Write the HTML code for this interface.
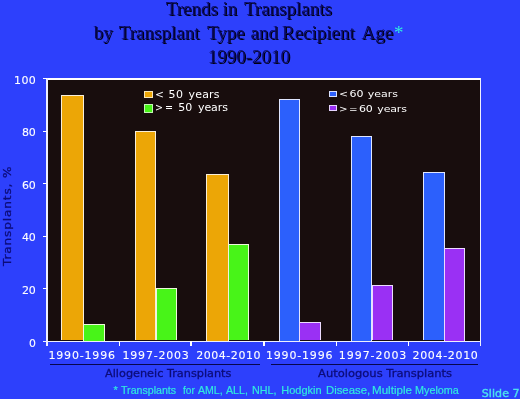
<!DOCTYPE html>
<html><head><meta charset="utf-8">
<style>
html,body{margin:0;padding:0;}
body{width:520px;height:399px;background:#2d40fc;position:relative;overflow:hidden;}
.w{position:absolute;white-space:nowrap;display:block;}
.plot{position:absolute;left:47px;top:79px;width:433.5px;height:262px;background:#180d0d;}
.ax{position:absolute;background:#fff;}
.bar{position:absolute;box-sizing:border-box;border:1px solid #f6eedc;border-bottom:none;}
.o{background:#eca606;border-color:#f8eed8;}
.g{background:#48f418;border-color:#eef8dc;}
.b{background:#2c60fc;border-color:#dfe6ff;}
.p{background:#9a30f4;border-color:#ecdcff;}
.sw{position:absolute;box-sizing:border-box;border:1px solid #f0eef8;}
.ul{position:absolute;background:#07074c;height:1.7px;top:363.6px;}
</style></head><body>
<div class="plot"></div>
<div class="bar o" style="left:60.5px;top:94.6px;width:23.00px;height:245.90px"></div>
<div class="bar g" style="left:83px;top:324px;width:22.00px;height:16.50px"></div>
<div class="bar o" style="left:135px;top:131.2px;width:21.00px;height:209.30px"></div>
<div class="bar g" style="left:155.5px;top:287.9px;width:21.50px;height:52.60px"></div>
<div class="bar o" style="left:206px;top:174px;width:23.00px;height:166.50px"></div>
<div class="bar g" style="left:228px;top:244.3px;width:21.00px;height:96.20px"></div>
<div class="bar b" style="left:278.7px;top:98.75px;width:21.30px;height:241.75px"></div>
<div class="bar p" style="left:299px;top:321.7px;width:21.50px;height:18.80px"></div>
<div class="bar b" style="left:351px;top:135.75px;width:21.30px;height:204.75px"></div>
<div class="bar p" style="left:371.8px;top:284.6px;width:20.80px;height:55.90px"></div>
<div class="bar b" style="left:423.3px;top:171.7px;width:21.70px;height:168.80px"></div>
<div class="bar p" style="left:444px;top:248px;width:21.40px;height:92.50px"></div>
<div class="ax" style="left:46.2px;top:78px;width:435px;height:2.2px"></div>
<div class="ax" style="left:46.3px;top:78px;width:1.4px;height:267.5px;background:#eef0ff"></div>
<div class="ax" style="left:479.8px;top:78px;width:1.4px;height:267.5px;background:#eef0ff"></div>
<div class="ax" style="left:43px;top:340.7px;width:438px;height:1.2px;background:#eef0ff"></div>
<div class="ax" style="left:118.7px;top:341px;width:1.2px;height:4.6px"></div>
<div class="ax" style="left:190.4px;top:341px;width:1.2px;height:4.6px"></div>
<div class="ax" style="left:263.4px;top:341px;width:1.2px;height:4.6px"></div>
<div class="ax" style="left:335.8px;top:341px;width:1.2px;height:4.6px"></div>
<div class="ax" style="left:407.8px;top:341px;width:1.2px;height:4.6px"></div>
<div class="ax" style="left:43px;top:78.0px;width:4px;height:1.2px"></div>
<div class="ax" style="left:43px;top:130.5px;width:4px;height:1.2px"></div>
<div class="ax" style="left:43px;top:183.0px;width:4px;height:1.2px"></div>
<div class="ax" style="left:43px;top:235.5px;width:4px;height:1.2px"></div>
<div class="ax" style="left:43px;top:288.0px;width:4px;height:1.2px"></div>
<div class="ul" style="left:49.5px;width:210px"></div>
<div class="ul" style="left:270.5px;width:207px"></div>
<div class="sw o" style="left:144px;top:90.6px;width:9px;height:7.7px;border-color:#f6e6b8"></div>
<div class="sw g" style="left:144px;top:104.1px;width:9px;height:8.6px;border-color:#c4f6b4"></div>
<div class="sw b" style="left:329px;top:90.9px;width:7.5px;height:6.2px;border-color:#d8e0ff"></div>
<div class="sw p" style="left:329px;top:105.4px;width:7.5px;height:6px;border-color:#e6d4ff"></div>
<div class="w" style="left:0;top:0;width:0;height:0;"><span class="w" style="left:2.2px;top:265.8px;font:11px 'DejaVu Sans','Liberation Sans',sans-serif;line-height:1;color:#0c0c78;letter-spacing:0.78px;-webkit-text-stroke:0.3px #0c0c78;transform:rotate(-90deg) scaleX(1.1);transform-origin:0 0;" id="yt">Transplants, %</span></div>
<span class="w" style="left:165.80px;top:-1.00px;font:normal 19px 'Liberation Serif',serif;line-height:1;color:#0a0a66;text-shadow:1px 1px 0.4px #00000c;">Trends</span>
<span class="w" style="left:222.40px;top:-1.00px;font:normal 19px 'Liberation Serif',serif;line-height:1;color:#0a0a66;text-shadow:1px 1px 0.4px #00000c;">in</span>
<span class="w" style="left:243.90px;top:-1.00px;font:normal 19px 'Liberation Serif',serif;line-height:1;color:#0a0a66;text-shadow:1px 1px 0.4px #00000c;">Transplants</span>
<span class="w" style="left:93.75px;top:22.70px;font:normal 19px 'Liberation Serif',serif;line-height:1;color:#0a0a66;text-shadow:1px 1px 0.4px #00000c;">by</span>
<span class="w" style="left:118.85px;top:22.70px;font:normal 19px 'Liberation Serif',serif;line-height:1;color:#0a0a66;text-shadow:1px 1px 0.4px #00000c;">Transplant</span>
<span class="w" style="left:207.00px;top:22.70px;font:normal 19px 'Liberation Serif',serif;line-height:1;color:#0a0a66;text-shadow:1px 1px 0.4px #00000c;">Type</span>
<span class="w" style="left:250.60px;top:22.70px;font:normal 19px 'Liberation Serif',serif;line-height:1;color:#0a0a66;text-shadow:1px 1px 0.4px #00000c;">and</span>
<span class="w" style="left:282.00px;top:22.70px;font:normal 19px 'Liberation Serif',serif;line-height:1;color:#0a0a66;text-shadow:1px 1px 0.4px #00000c;">Recipient</span>
<span class="w" style="left:361.50px;top:22.70px;font:normal 19px 'Liberation Serif',serif;line-height:1;color:#0a0a66;text-shadow:1px 1px 0.4px #00000c;">Age</span>
<span class="w" style="left:394.10px;top:23.00px;font:normal 19px 'Liberation Serif',serif;line-height:1;color:#30eadf;">*</span>
<span class="w" style="left:207.75px;top:46.70px;font:normal 19px 'Liberation Serif',serif;line-height:1;color:#0a0a66;text-shadow:1px 1px 0.4px #00000c;">1990-2010</span>
<span class="w" style="left:14.00px;top:74.60px;font:normal 11px 'DejaVu Sans','Liberation Sans',sans-serif;line-height:1;color:#fff;letter-spacing:0.40px;-webkit-text-stroke:0.1px #fff;">100</span>
<span class="w" style="left:22.00px;top:126.70px;font:normal 11px 'DejaVu Sans','Liberation Sans',sans-serif;line-height:1;color:#fff;letter-spacing:-0.20px;-webkit-text-stroke:0.1px #fff;">80</span>
<span class="w" style="left:22.00px;top:179.50px;font:normal 11px 'DejaVu Sans','Liberation Sans',sans-serif;line-height:1;color:#fff;letter-spacing:-0.20px;-webkit-text-stroke:0.1px #fff;">60</span>
<span class="w" style="left:22.00px;top:231.60px;font:normal 11px 'DejaVu Sans','Liberation Sans',sans-serif;line-height:1;color:#fff;letter-spacing:-0.20px;-webkit-text-stroke:0.1px #fff;">40</span>
<span class="w" style="left:22.00px;top:284.90px;font:normal 11px 'DejaVu Sans','Liberation Sans',sans-serif;line-height:1;color:#fff;letter-spacing:-0.20px;-webkit-text-stroke:0.1px #fff;">20</span>
<span class="w" style="left:28.90px;top:337.90px;font:normal 11px 'DejaVu Sans','Liberation Sans',sans-serif;line-height:1;color:#fff;transform:scaleX(0.986);transform-origin:0 0;-webkit-text-stroke:0.1px #fff;">0</span>
<span class="w" style="left:48.50px;top:349.80px;font:normal 11px 'DejaVu Sans','Liberation Sans',sans-serif;line-height:1;color:#fff;letter-spacing:0.81px;-webkit-text-stroke:0.1px #fff;">1990-1996</span>
<span class="w" style="left:122.50px;top:349.80px;font:normal 11px 'DejaVu Sans','Liberation Sans',sans-serif;line-height:1;color:#fff;letter-spacing:0.80px;-webkit-text-stroke:0.1px #fff;">1997-2003</span>
<span class="w" style="left:196.25px;top:349.80px;font:normal 11px 'DejaVu Sans','Liberation Sans',sans-serif;line-height:1;color:#fff;letter-spacing:0.53px;-webkit-text-stroke:0.1px #fff;">2004-2010</span>
<span class="w" style="left:266.00px;top:349.80px;font:normal 11px 'DejaVu Sans','Liberation Sans',sans-serif;line-height:1;color:#fff;letter-spacing:0.81px;-webkit-text-stroke:0.1px #fff;">1990-1996</span>
<span class="w" style="left:338.80px;top:349.80px;font:normal 11px 'DejaVu Sans','Liberation Sans',sans-serif;line-height:1;color:#fff;letter-spacing:0.95px;-webkit-text-stroke:0.1px #fff;">1997-2003</span>
<span class="w" style="left:412.50px;top:349.80px;font:normal 11px 'DejaVu Sans','Liberation Sans',sans-serif;line-height:1;color:#fff;letter-spacing:0.67px;-webkit-text-stroke:0.1px #fff;">2004-2010</span>
<span class="w" style="left:105.40px;top:368.00px;font:normal 11px 'DejaVu Sans','Liberation Sans',sans-serif;line-height:1;color:#0c0c78;transform:scaleX(1.025);transform-origin:0 0;-webkit-text-stroke:0.3px #0c0c78;">Allogeneic Transplants</span>
<span class="w" style="left:318.30px;top:368.00px;font:normal 11px 'DejaVu Sans','Liberation Sans',sans-serif;line-height:1;color:#0c0c78;transform:scaleX(1.047);transform-origin:0 0;-webkit-text-stroke:0.3px #0c0c78;">Autologous Transplants</span>
<span class="w" style="left:113.62px;top:385.40px;font:normal 11px 'Liberation Sans',sans-serif;line-height:1;color:#30eadf;-webkit-text-stroke:0.2px #30eadf;">*</span>
<span class="w" style="left:121.25px;top:385.40px;font:normal 11px 'Liberation Sans',sans-serif;line-height:1;color:#30eadf;transform:scaleX(0.965);transform-origin:0 0;-webkit-text-stroke:0.2px #30eadf;">Transplants</span>
<span class="w" style="left:182.50px;top:385.40px;font:normal 11px 'Liberation Sans',sans-serif;line-height:1;color:#30eadf;transform:scaleX(0.923);transform-origin:0 0;-webkit-text-stroke:0.2px #30eadf;">for</span>
<span class="w" style="left:198.00px;top:385.40px;font:normal 11px 'Liberation Sans',sans-serif;line-height:1;color:#30eadf;transform:scaleX(0.960);transform-origin:0 0;-webkit-text-stroke:0.2px #30eadf;">AML,</span>
<span class="w" style="left:226.25px;top:385.40px;font:normal 11px 'Liberation Sans',sans-serif;line-height:1;color:#30eadf;transform:scaleX(0.966);transform-origin:0 0;-webkit-text-stroke:0.2px #30eadf;">ALL,</span>
<span class="w" style="left:252.00px;top:385.40px;font:normal 11px 'Liberation Sans',sans-serif;line-height:1;color:#30eadf;transform:scaleX(0.979);transform-origin:0 0;-webkit-text-stroke:0.2px #30eadf;">NHL,</span>
<span class="w" style="left:281.25px;top:385.40px;font:normal 11px 'Liberation Sans',sans-serif;line-height:1;color:#30eadf;-webkit-text-stroke:0.2px #30eadf;">Hodgkin</span>
<span class="w" style="left:325.50px;top:385.40px;font:normal 11px 'Liberation Sans',sans-serif;line-height:1;color:#30eadf;transform:scaleX(1.030);transform-origin:0 0;-webkit-text-stroke:0.2px #30eadf;">Disease,</span>
<span class="w" style="left:372.30px;top:385.40px;font:normal 11px 'Liberation Sans',sans-serif;line-height:1;color:#30eadf;transform:scaleX(1.053);transform-origin:0 0;-webkit-text-stroke:0.2px #30eadf;">Multiple</span>
<span class="w" style="left:414.80px;top:385.40px;font:normal 11px 'Liberation Sans',sans-serif;line-height:1;color:#30eadf;transform:scaleX(0.982);transform-origin:0 0;-webkit-text-stroke:0.2px #30eadf;">Myeloma</span>
<span class="w" style="left:481.80px;top:387.90px;font:normal 11px 'DejaVu Sans','Liberation Sans',sans-serif;line-height:1;color:#4ce2ee;letter-spacing:0.07px;-webkit-text-stroke:0.4px #4ce2ee;">Slide 7</span>
<span class="w" style="left:155.23px;top:89.20px;font:normal 11px 'DejaVu Sans','Liberation Sans',sans-serif;line-height:1;color:#fff;transform:scaleX(0.971);transform-origin:0 0;">&lt;</span>
<span class="w" style="left:168.60px;top:89.20px;font:normal 11px 'DejaVu Sans','Liberation Sans',sans-serif;line-height:1;color:#fff;letter-spacing:0.30px;">50</span>
<span class="w" style="left:188.60px;top:89.20px;font:normal 11px 'DejaVu Sans','Liberation Sans',sans-serif;line-height:1;color:#fff;letter-spacing:0.15px;">years</span>
<span class="w" style="left:155.33px;top:101.50px;font:normal 11px 'DejaVu Sans','Liberation Sans',sans-serif;line-height:1;color:#fff;transform:scaleX(0.871);transform-origin:0 0;">&gt;</span>
<span class="w" style="left:164.53px;top:101.50px;font:normal 11px 'DejaVu Sans','Liberation Sans',sans-serif;line-height:1;color:#fff;transform:scaleX(0.871);transform-origin:0 0;">=</span>
<span class="w" style="left:178.20px;top:101.50px;font:normal 11px 'DejaVu Sans','Liberation Sans',sans-serif;line-height:1;color:#fff;letter-spacing:0.10px;">50</span>
<span class="w" style="left:198.00px;top:101.50px;font:normal 11px 'DejaVu Sans','Liberation Sans',sans-serif;line-height:1;color:#fff;letter-spacing:-0.08px;">years</span>
<span class="w" style="left:338.71px;top:88.30px;font:normal 11px 'DejaVu Sans','Liberation Sans',sans-serif;line-height:1;color:#fff;transform:scale(0.986,0.8);transform-origin:0 9px;">&lt;</span>
<span class="w" style="left:349.50px;top:88.30px;font:normal 11px 'DejaVu Sans','Liberation Sans',sans-serif;line-height:1;color:#fff;transform:scale(1.000,0.8);transform-origin:0 9px;letter-spacing:-0.10px;">60</span>
<span class="w" style="left:367.80px;top:88.30px;font:normal 11px 'DejaVu Sans','Liberation Sans',sans-serif;line-height:1;color:#fff;transform:scale(1.000,0.8);transform-origin:0 9px;letter-spacing:-0.03px;">years</span>
<span class="w" style="left:338.77px;top:102.80px;font:normal 11px 'DejaVu Sans','Liberation Sans',sans-serif;line-height:1;color:#fff;transform:scale(0.929,0.8);transform-origin:0 9px;">&gt;</span>
<span class="w" style="left:348.57px;top:102.80px;font:normal 11px 'DejaVu Sans','Liberation Sans',sans-serif;line-height:1;color:#fff;transform:scale(0.929,0.8);transform-origin:0 9px;">=</span>
<span class="w" style="left:359.00px;top:102.80px;font:normal 11px 'DejaVu Sans','Liberation Sans',sans-serif;line-height:1;color:#fff;transform:scale(1.000,0.8);transform-origin:0 9px;letter-spacing:-0.30px;">60</span>
<span class="w" style="left:377.30px;top:102.80px;font:normal 11px 'DejaVu Sans','Liberation Sans',sans-serif;line-height:1;color:#fff;transform:scale(1.000,0.8);transform-origin:0 9px;letter-spacing:-0.15px;">years</span>
</body></html>
